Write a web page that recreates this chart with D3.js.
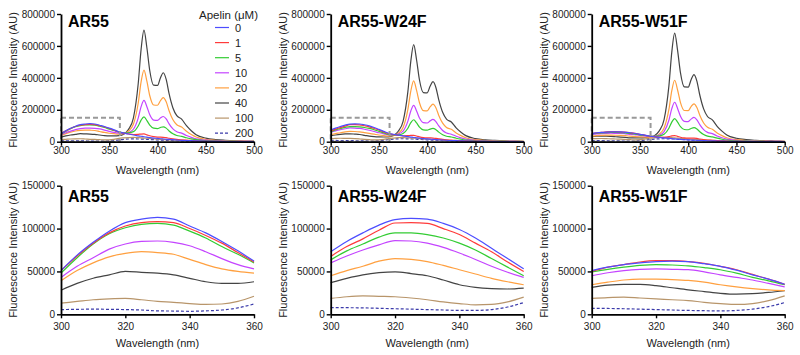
<!DOCTYPE html>
<html><head><meta charset="utf-8">
<script src="https://cdn.jsdelivr.net/npm/d3@7"></script>
<style>body{margin:0;background:#fff}svg{display:block}text{font-family:"Liberation Sans",Arial,Helvetica,sans-serif}</style>
</head><body><svg id="c" width="800" height="355"></svg>
<script>
// ---- data ----
const wavelengths = [300,305,310,315,320,325,330,335,340,345,350,355,360,365,370,375,380,383,386,389,392,396,400,403,406,409,412,416,420,425,430,435,440,450,460,470,480,490,500];
const apelinLevels = ["0","1","5","10","20","40","100","200"];
const seriesColors = ["#4d4dff","#ff3b3b","#33cc33","#c444ff","#ffa040","#444444","#b8956a","#3a3aaa"];
const panelTitles = ["AR55","AR55-W24F","AR55-W51F"];
const topYTicks = [0,200000,400000,600000,800000];
const topXTicks = [300,350,400,450,500];
const bottomYTicks = [0,50000,100000,150000];
const bottomXTicks = [300,320,340,360];

const AR55 = [
[51000,69000,84000,97000,107000,111000,113000,111000,103000,95000,85000,74000,62000,55000,48000,42000,37000,34000,31000,28500,26000,23000,20500,18500,17000,15500,14000,12500,10500,8700,7400,6200,5000,3100,1900,1200,700,500,300],
[51000,68000,83000,95000,103000,107000,108000,107000,100000,92000,83000,72000,61000,54000,49000,45000,46000,48000,48500,43000,37000,31500,29000,28500,27500,25500,21500,17500,14500,12000,10000,8000,6000,3600,2100,1400,800,600,400],
[48000,66000,82000,94000,101000,105000,106000,104000,97000,89000,79000,70000,60000,55000,56000,63000,98500,135500,155000,132500,104000,84500,82000,89000,93500,85000,67500,49500,39000,33500,24500,18000,12500,6800,4000,2700,1700,1200,800],
[43000,56000,66000,76000,82000,85000,85500,84000,80000,73000,65000,58000,53000,51000,57500,78000,148000,219500,258500,219500,168500,135500,133500,148000,158000,143000,112000,80000,62500,54000,39000,27500,18000,9700,5800,3900,2500,1800,1200],
[39000,51000,60000,67000,71000,73000,72000,70000,64000,58000,53000,50000,48000,50500,67000,109000,241000,375000,449000,379000,288000,230000,228500,256500,276500,250000,194000,137000,106000,91500,65500,45000,29500,15000,9000,6100,4000,3000,1900],
[28000,36000,42000,46000,50000,49000,48000,46000,42000,38000,36000,36000,38000,47000,77000,148000,363000,578500,699000,588500,444500,354000,352500,399000,432000,390500,301000,211500,163000,141500,100000,68500,44000,22500,13500,9000,6000,4500,3000],
[13000,15000,17000,18000,18500,17000,15000,14000,12500,11500,12000,15000,21000,24000,26000,26500,25500,24500,23000,22000,20500,18500,16500,15000,14000,13000,12000,10500,9000,7500,6000,5000,4000,2500,1500,1000,700,500,300],
[5500,5800,6000,5800,5500,5000,4000,3800,3500,4000,5000,7500,12000,15000,17000,17500,17000,16500,16000,15000,14000,12500,11500,10500,9500,8800,8000,7000,6000,5000,4000,3300,2700,1700,1000,700,500,300,200]
];
const AR55_W24F = [
[73000,85000,95000,104000,110500,112000,111000,106000,99000,89000,77000,65000,53000,46600,41300,36000,31800,29200,26500,24400,22300,19600,17500,15900,14300,13300,12200,10600,9000,7400,6400,5300,4200,2700,1600,1100,600,400,300],
[67500,79000,88000,98000,106500,107000,106000,100000,93000,83000,73000,61000,50000,44300,40000,36700,37500,39800,40000,35600,30500,26000,24000,23500,22800,20900,18000,14500,12000,10000,8100,6400,4900,3000,1800,1200,700,500,300],
[63500,74000,82000,90000,95000,95000,93000,89000,83000,75000,65000,55000,45000,42000,43000,51500,84500,119000,137500,117500,91500,74000,72500,79000,83500,75500,60000,43500,34000,29500,21500,15500,10500,5700,3400,2300,1500,1000,700],
[60000,68000,75000,81000,86000,85500,83000,78000,71500,64000,56000,49000,43000,42000,48000,66500,129000,192500,227500,193000,148000,119000,117000,130500,139500,126000,98500,70500,54500,47000,34000,24000,16000,8300,5000,3400,2100,1500,1000],
[45000,51000,56000,62000,65000,64000,61500,57000,52000,47000,42000,38000,34500,37500,52500,89000,202500,317500,381000,321500,244000,195000,193500,218000,235000,212500,164500,116000,89500,77500,55000,38000,24500,12500,7600,5100,3300,2500,1700],
[37000,42000,46000,48500,49500,47500,45000,40000,34500,31500,30000,29500,30500,38500,65500,127500,315000,503000,608000,512000,386500,308000,306500,347000,376000,339500,262000,184000,141500,123000,86500,59500,38000,19500,11500,7700,5100,3800,2500],
[18500,20500,21500,21000,20500,19000,17000,14500,12500,11000,11500,14500,20000,23000,25000,25500,24500,23500,22000,21000,19500,17500,16000,14500,13500,12500,11500,10000,8500,7000,5800,4800,3800,2400,1400,900,600,400,300],
[7800,7700,7500,7000,6500,6000,5500,5000,4500,4500,5500,8500,13700,16500,18000,18500,18000,17500,16500,15500,14500,13000,12000,11000,10000,9000,8200,7200,6200,5200,4200,3400,2800,1800,1100,700,500,300,200]
];
const AR55_W51F = [
[51000,55000,58000,60000,61500,62000,61500,59000,56000,51500,46000,41000,35000,30800,27300,23800,21000,19300,17500,16100,14700,13000,11600,10500,9500,8800,8100,7000,6000,4900,4200,3500,2800,1800,1100,700,400,300,200],
[50000,55000,58000,61000,62500,62500,61500,59500,56000,52000,46500,41000,35000,31200,28800,27600,31500,36500,38500,33700,27900,23500,22000,22500,22500,20500,17000,13300,10800,9100,7100,5500,4100,2400,1400,950,600,400,250],
[49500,52500,55000,57000,58000,57500,56500,54500,52000,48000,43000,39000,34500,33000,36000,46500,84000,123000,144000,122500,94500,76500,75000,83000,88000,79500,62500,45000,35000,30000,22000,15500,10500,5500,3300,2200,1400,1100,700],
[45000,48500,51000,52500,53000,52500,52000,49500,46000,43000,40000,36000,32000,33000,41000,63500,134500,207000,247000,208500,159000,127500,126000,141500,152000,137500,106500,75500,58500,50500,36000,25000,16500,8500,5200,3400,2200,1700,1100],
[34500,37500,40000,41000,41000,40500,39500,37500,34500,32000,30000,28500,27500,31500,47500,85500,202000,319500,385000,324000,245000,195500,194500,220000,237500,214500,166000,117000,90000,78000,55000,38000,24500,12500,7500,5000,3300,2400,1600],
[31500,34000,35000,35000,33500,31000,28500,26500,24500,23500,24000,25500,27500,37500,68000,138500,349500,561000,680000,572000,431000,343000,342000,388000,420500,380000,292500,205500,158000,137000,96500,66000,42000,21500,13000,8500,5500,4200,2800],
[18500,19500,20000,19000,18000,17000,16000,14000,12500,11500,12500,16000,21500,24500,26500,27000,26000,25000,23500,22500,21000,19000,17000,15500,14500,13500,12500,11000,9500,8000,6500,5300,4200,2700,1600,1000,700,500,300],
[7000,6800,6500,6000,5500,5000,4500,4200,4000,4500,6000,9000,13700,16500,18000,18500,18000,17500,16500,15500,14500,13000,12000,11000,10000,9000,8200,7200,6200,5200,4200,3400,2800,1800,1100,700,500,300,200]
];
const proteinData = [AR55, AR55_W24F, AR55_W51F];

// ---- drawing ----
const svg = d3.select("#c");
const FONT = '"Liberation Sans",Arial,Helvetica,sans-serif';
const panelLefts = [61, 330.7, 591.7];
const plotW = 193;
const rows = [
  {top:14, bottom:141.7, xDomain:[300,500], yDomain:[0,800000], xTicks:topXTicks, yTicks:topYTicks, maxWl:500, box:true,
   titleY:26.5, tickBase:154.5, xTitleY:173.5, yTitleMid:80},
  {top:185.7, bottom:314.3, xDomain:[300,360], yDomain:[0,150000], xTicks:bottomXTicks, yTicks:bottomYTicks, maxWl:360, box:false,
   titleY:202, tickBase:330.5, xTitleY:346.5, yTitleMid:250}
];

rows.forEach(row => {
  panelLefts.forEach((left, pi) => {
    const g = svg.append("g");
    const x = d3.scaleLinear().domain(row.xDomain).range([left, left + plotW]);
    const y = d3.scaleLinear().domain(row.yDomain).range([row.bottom, row.top]);
    const line = d3.line()
      .x(d => x(d[0])).y(d => y(d[1]))
      .curve(d3.curveMonotoneX);
    const series = proteinData[pi];
    for (let s = series.length - 1; s >= 0; s--) {
      const pts = wavelengths.map((w, i) => [w, series[s][i]]).filter(p => p[0] <= row.maxWl);
      g.append("path").attr("d", line(pts))
        .attr("fill", "none").attr("stroke", seriesColors[s])
        .attr("stroke-width", 1.2)
        .attr("stroke-dasharray", s === 7 ? "3,2" : null);
    }
    if (row.box) {
      g.append("rect")
        .attr("x", x(300)).attr("y", y(150000))
        .attr("width", x(361) - x(300)).attr("height", y(0) - y(150000))
        .attr("fill", "none").attr("stroke", "#999").attr("stroke-width", 2)
        .attr("stroke-dasharray", "5,3");
    }
    // axes
    const ax = g.append("g").attr("transform", `translate(0,${row.bottom})`)
      .call(d3.axisBottom(x).tickValues(row.xTicks).tickFormat(d3.format("d")).tickSize(4).tickSizeOuter(0).tickPadding(3));
    const ay = g.append("g").attr("transform", `translate(${left},0)`)
      .call(d3.axisLeft(y).tickValues(row.yTicks).tickFormat(d3.format("d")).tickSize(4).tickSizeOuter(0).tickPadding(2));
    [ax, ay].forEach(a => {
      a.select(".domain").attr("stroke", "#000").attr("stroke-width", 1.8);
      a.selectAll(".tick line").attr("stroke", "#000").attr("stroke-width", 1.4);
      a.selectAll("text").attr("font-family", FONT).attr("font-size", 10).attr("fill", "#222");
    });
    ax.selectAll("text").attr("dy", null).attr("y", row.tickBase - row.bottom);
    // titles
    g.append("text").attr("x", left + 7).attr("y", row.titleY)
      .attr("font-family", FONT).attr("font-size", 16).attr("font-weight", "bold").attr("fill", "#000")
      .text(panelTitles[pi]);
    g.append("text").attr("x", left + plotW / 2).attr("y", row.xTitleY)
      .attr("text-anchor", "middle").attr("font-family", FONT).attr("font-size", 11).attr("fill", "#222")
      .text("Wavelength (nm)");
    g.append("text").attr("transform", `translate(${left - 44},${row.yTitleMid}) rotate(-90)`)
      .attr("text-anchor", "middle").attr("font-family", FONT).attr("font-size", 11).attr("fill", "#222")
      .text("Fluorescence Intensity (AU)");
  });
});

// legend
const lg = svg.append("g");
lg.append("text").attr("x", 199).attr("y", 18.5).attr("font-family", FONT).attr("font-size", 11.5).attr("fill", "#222")
  .text("Apelin (\u03BCM)");
apelinLevels.forEach((lab, i) => {
  const cy = 27.5 + i * 15.1;
  lg.append("line").attr("x1", 215).attr("x2", 229).attr("y1", cy).attr("y2", cy)
    .attr("stroke", seriesColors[i]).attr("stroke-width", 1.2)
    .attr("stroke-dasharray", i === 7 ? "3,2" : null);
  lg.append("text").attr("x", 235).attr("y", cy + 4).attr("font-family", FONT).attr("font-size", 11).attr("fill", "#222")
    .text(lab);
});
</script></body></html>
